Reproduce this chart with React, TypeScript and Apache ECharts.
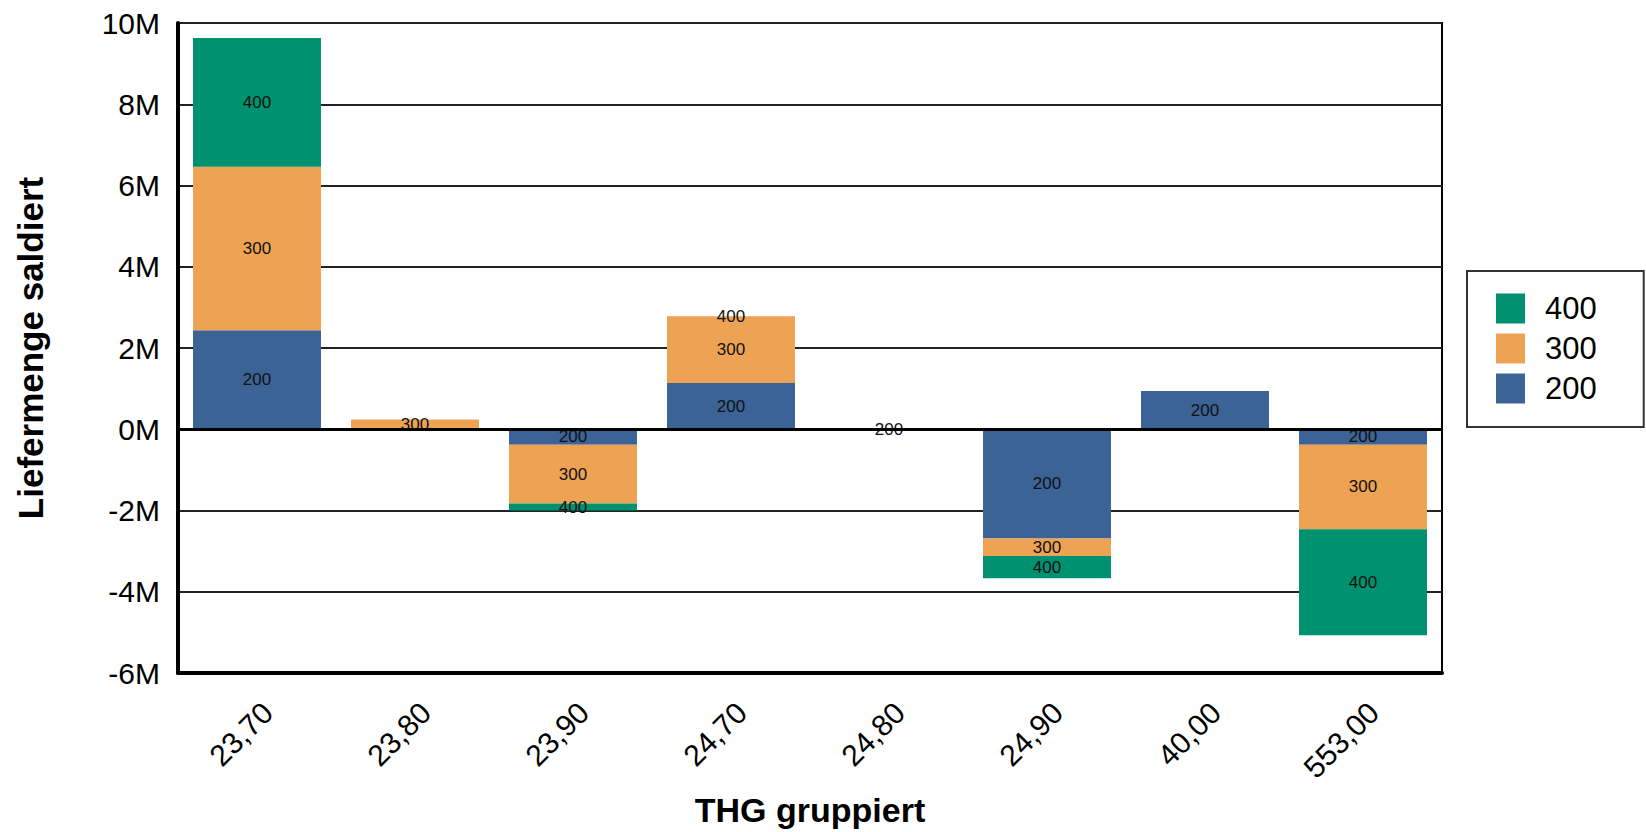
import React, { useEffect, useRef } from "react";
import * as echarts from "echarts";

const categories = ["23,70", "23,80", "23,90", "24,70", "24,80", "24,90", "40,00", "553,00"];
const s200 = [2440000, null, -380000, 1140000, 10000, -2690000, 940000, -380000];
const s300 = [4020000, 240000, -1450000, 1640000, null, -430000, null, -2080000];
const s400 = [3170000, null, -170000, 3000, null, -550000, null, -2610000];
const legendOrder = ["400", "300", "200"];
const colors: Record<string, string> = { "200": "#3B6396", "300": "#EEA254", "400": "#009270" };

const FONT = "Liberation Sans, Arial, sans-serif";

export default function App() {
  const ref = useRef<HTMLDivElement>(null);
  useEffect(() => {
    if (!ref.current) return;
    const chart = echarts.init(ref.current, undefined, { renderer: "svg" });
    const mk = (name: string, data: (number | null)[], withZero: boolean) => ({
      name,
      type: "bar",
      stack: "total",
      data,
      barCategoryGap: "19%",
      itemStyle: { color: colors[name] },
      label: {
        show: true,
        position: "inside",
        formatter: name,
        color: "#111",
        fontSize: 17,
        fontFamily: FONT,
      },
      ...(withZero
        ? {
            markLine: {
              silent: true,
              symbol: "none",
              label: { show: false },
              lineStyle: { color: "#000", width: 3, type: "solid" },
              data: [{ yAxis: 0 }],
            },
          }
        : {}),
    });
    chart.setOption({
      animation: false,
      textStyle: { fontFamily: FONT },
      grid: {
        left: 178,
        right: 204,
        top: 23,
        bottom: 159,
        show: true,
        borderColor: "#000",
        borderWidth: 2,
        backgroundColor: "transparent",
      },
      legend: {
        data: legendOrder,
        orient: "vertical",
        left: 1467,
        top: 271,
        itemWidth: 29,
        itemHeight: 30,
        itemGap: 9,
        padding: [22, 47, 23, 29],
        borderColor: "#333",
        borderWidth: 2,
        icon: "rect",
        textStyle: { fontSize: 31, color: "#000", fontFamily: FONT, padding: [0, 0, 0, 15] },
      },
      xAxis: {
        type: "category",
        data: categories,
        name: "THG gruppiert",
        nameLocation: "middle",
        nameGap: 120,
        nameTextStyle: { fontSize: 34, fontWeight: "bold", color: "#000", fontFamily: FONT, verticalAlign: "top" },
        axisLine: { onZero: false, lineStyle: { color: "#000", width: 4 } },
        axisTick: { show: false },
        axisLabel: {
          rotate: 45,
          fontSize: 30,
          color: "#000",
          margin: 24,
          verticalAlign: "top",
          fontFamily: FONT,
        },
      },
      yAxis: {
        type: "value",
        min: -6000000,
        max: 10000000,
        interval: 2000000,
        name: "Liefermenge saldiert",
        nameLocation: "middle",
        nameGap: 130,
        nameTextStyle: { fontSize: 35, fontWeight: "bold", color: "#000", fontFamily: FONT },
        axisLine: { show: true, lineStyle: { color: "#000", width: 4 } },
        axisTick: { show: false },
        axisLabel: {
          fontSize: 30,
          color: "#000",
          margin: 18,
          fontFamily: FONT,
          formatter: (v: number) => `${Math.round(v / 1000000)}M`,
        },
        splitLine: { show: true, lineStyle: { color: "#222", width: 2 } },
      },
      series: [mk("200", s200, true), mk("300", s300, false), mk("400", s400, false)],
    });
    return () => chart.dispose();
  }, []);
  return (
    <div
      ref={ref}
      style={{ position: "fixed", left: 0, top: 0, width: 1646, height: 832, background: "#fff" }}
    />
  );
}
